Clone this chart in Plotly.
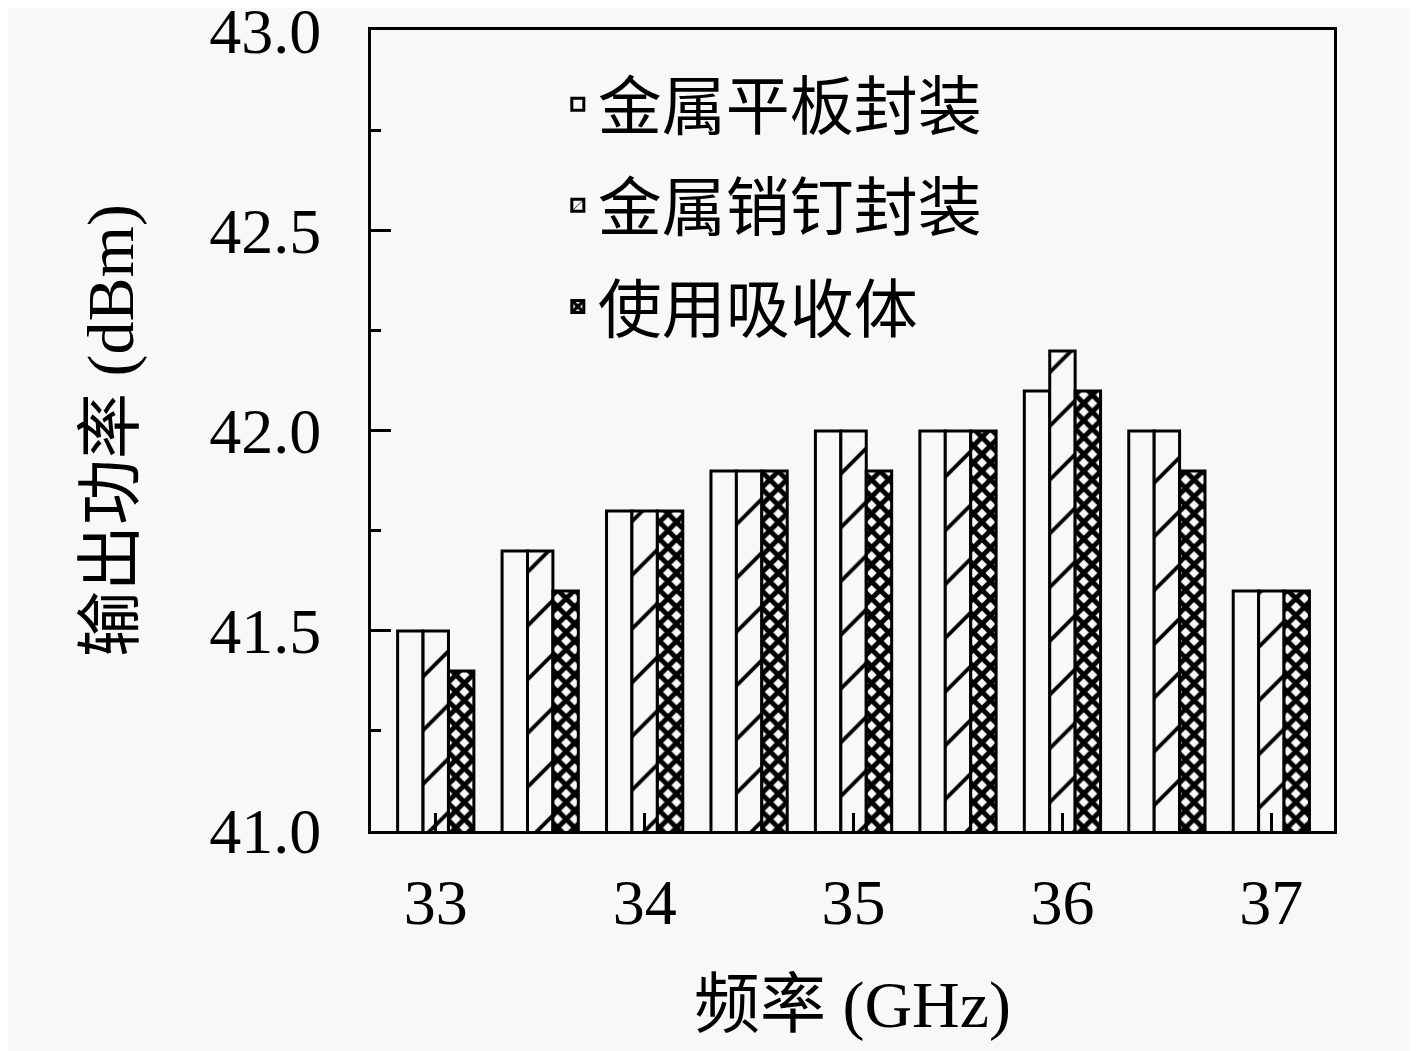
import plotly.graph_objects as go

# frequency points (GHz) and measured output power (dBm)
freq = [33, 33.5, 34, 34.5, 35, 35.5, 36, 36.5, 37]
flat_pkg = [41.5, 41.7, 41.8, 41.9, 42.0, 42.0, 42.1, 42.0, 41.6]
pin_pkg = [41.5, 41.7, 41.8, 41.9, 42.0, 42.0, 42.2, 42.0, 41.6]
absorber = [41.4, 41.6, 41.8, 41.9, 41.9, 42.0, 42.1, 41.9, 41.6]

names = ["金属平板封装", "金属销钉封装", "使用吸收体"]
patterns = ["", "/", "x"]
pat_sizes = [10, 38, 12]
pat_solid = [0.2, 0.1, 0.65]

BG = "#f8f8f8"
FONT = "Liberation Serif, Noto Sans CJK SC, serif"

fig = go.Figure()
for i, (nm, ys) in enumerate(zip(names, [flat_pkg, pin_pkg, absorber])):
    fig.add_trace(go.Bar(
        x=freq, y=ys, name=nm, legendgroup=nm,
        marker=dict(
            color=BG,
            line=dict(color="black", width=3),
            pattern=dict(shape=patterns[i], fgcolor="black", bgcolor=BG, fgopacity=1,
                         size=pat_sizes[i], solidity=pat_solid[i], fillmode="replace"),
        ),
    ))

# the page body adds an 8px offset, so the figure is a bit smaller than the window
fig.update_layout(
    width=1409, height=1043,
    paper_bgcolor=BG, plot_bgcolor=BG,
    font=dict(family=FONT, size=64, color="black"),
    barmode="group", bargap=0.27, bargroupgap=0,
    margin=dict(l=363, r=83, t=22, b=220, autoexpand=False),
    showlegend=True,
    legend=dict(
        x=0.194, y=0.9675, xanchor="left", yanchor="top",
        bgcolor="rgba(0,0,0,0)", font=dict(size=64),
        tracegroupgap=15, traceorder="grouped",
    ),
)

fig.update_xaxes(
    range=[32.69, 37.30], tickvals=[33, 34, 35, 36, 37],
    ticks="inside", ticklen=18, tickwidth=3, tickcolor="black",
    showline=True, linewidth=3, linecolor="black", mirror=True,
    showgrid=False, zeroline=False, automargin=False,
    tickfont=dict(size=64), ticklabelstandoff=13,
    title=dict(text="频率 (GHz)", font=dict(size=66), standoff=45),
)
fig.update_yaxes(
    range=[41, 43.002], tickvals=[41.0, 41.5, 42.0, 42.5, 43.0], tickformat=".1f",
    ticks="inside", ticklen=20, tickwidth=3, tickcolor="black",
    minor=dict(tickvals=[41.25, 41.75, 42.25, 42.75], ticks="inside",
               ticklen=10, tickwidth=3, tickcolor="black"),
    showline=True, linewidth=3, linecolor="black", mirror=True,
    showgrid=False, zeroline=False, automargin=False,
    tickfont=dict(size=64), ticklabelstandoff=34, ticklabeloverflow="allow",
    title=dict(text="输出功率 (dBm)", font=dict(size=66), standoff=55),
)

fig.write_html("out.html")
